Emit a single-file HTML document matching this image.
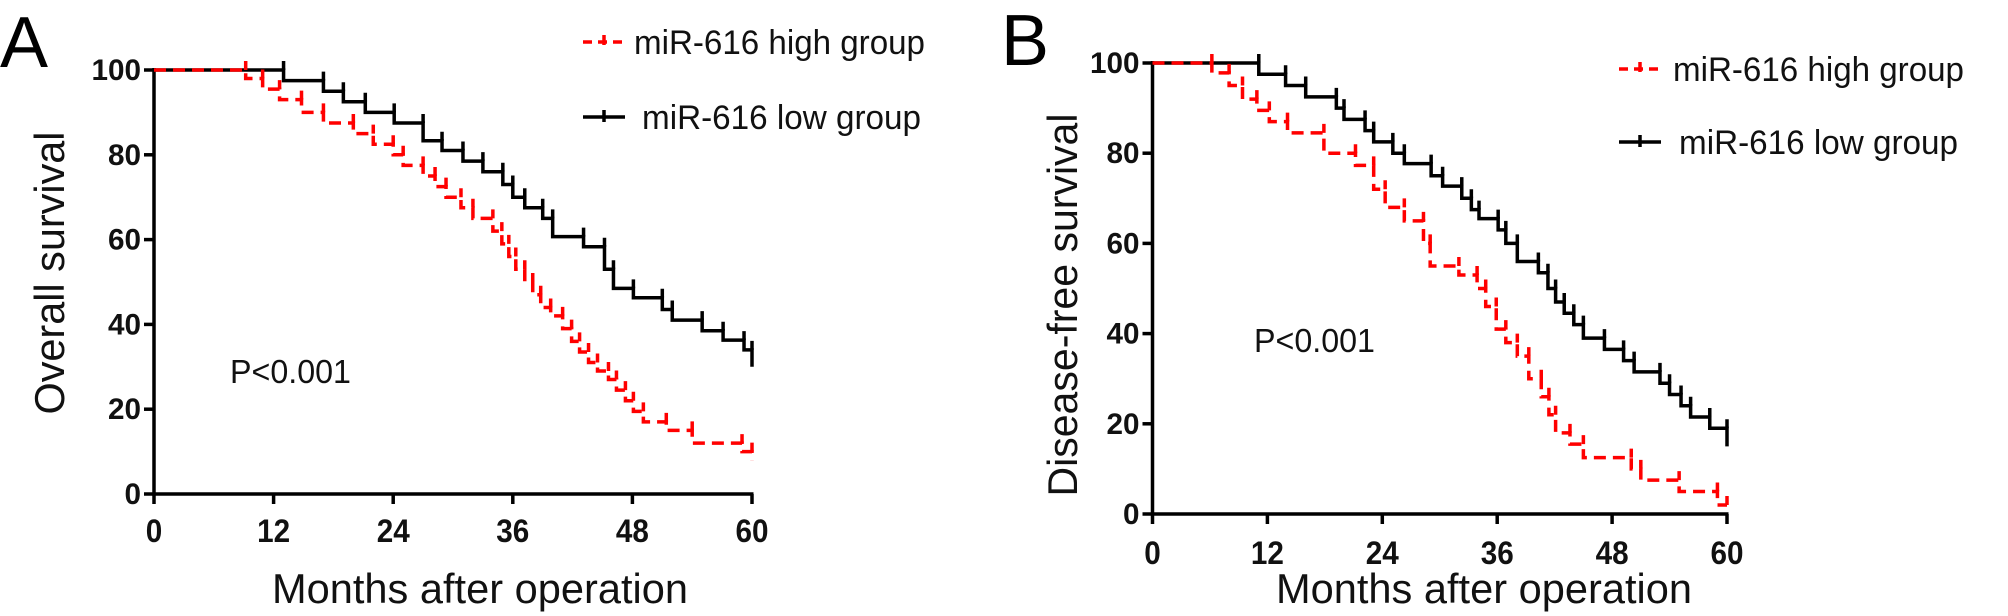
<!DOCTYPE html>
<html><head><meta charset="utf-8"><style>
html,body{margin:0;padding:0;background:#fff;}
svg{display:block;font-family:"Liberation Sans",Arial,sans-serif;}
</style></head><body>
<svg id="fig" width="2008" height="616" viewBox="0 0 2008 616" xmlns="http://www.w3.org/2000/svg"></svg>
<script>
const xTicks = [0, 12, 24, 36, 48, 60];
const yTicks = [0, 20, 40, 60, 80, 100];
// Panel A (overall survival)
const aHighTimes = [0, 9.2, 10.9, 12.6, 14.8, 17, 20, 22, 24, 25, 27, 28.2, 29.3, 30.8, 32, 34, 34.9, 35.6, 36.3, 37.2, 38, 38.8, 39.8, 41, 41.9, 42.7, 43.6, 44.5, 45.6, 46.4, 47.3, 48.1, 49.1, 51.4, 54, 59, 60];
const aHighSurv  = [100, 98, 95.5, 93, 90, 87.5, 85, 82.5, 80, 77.5, 75, 72.5, 70, 67.5, 65, 62, 59, 56, 53, 50, 47, 44, 42, 39, 36, 33.5, 31, 29, 27, 24.5, 22, 19.5, 17, 15, 12, 10, 8];
const aLowTimes  = [0, 13, 17, 19, 21.2, 24.1, 27, 28.9, 31, 33, 35, 36, 37.2, 39, 40, 43.1, 45.2, 46.1, 48.1, 51, 52, 55, 57.1, 59.2, 60];
const aLowSurv   = [100, 97.5, 95, 92.5, 90, 87.5, 83.3, 81, 78.5, 76, 73, 70, 67.5, 65, 60.7, 58.3, 53, 48.5, 46.3, 43.5, 41, 38.5, 36.3, 34, 30];
// Panel B (disease-free survival)
const bHighTimes = [0, 6.2, 8, 9.4, 10.9, 12.2, 14.1, 17.9, 21.2, 23.1, 24.3, 26.3, 28.3, 29, 32, 33.9, 34.8, 35.9, 36.9, 38.1, 39.3, 40.6, 41.4, 42.1, 43.6, 45, 50, 51, 55, 59, 60];
const bHighSurv  = [100, 97.8, 95, 92, 89.5, 87, 84.5, 80, 77.3, 72, 68, 65, 60, 55, 53, 50, 46, 41, 38, 35, 30, 26, 22, 18, 15.5, 12.5, 10, 7.5, 5, 2, 2];
const bLowTimes  = [0, 11.1, 13.9, 16, 19.2, 20, 22.2, 23.1, 25.1, 26.3, 29.1, 30.3, 32.3, 33.3, 34.1, 36.1, 36.9, 38.1, 40.3, 41.3, 42.1, 43, 44, 45, 47.2, 49.2, 50.3, 53, 54, 55.2, 56.2, 58.2, 60];
const bLowSurv   = [100, 97.5, 95, 92.5, 90, 87.5, 85, 82.5, 80, 77.7, 75, 72.7, 70, 67.5, 65.5, 63, 60, 56, 53.5, 50, 47, 44.5, 42, 39, 36.5, 34, 31.5, 29, 26.5, 24, 21.5, 19, 15];

const NS = "http://www.w3.org/2000/svg";
const svg = document.getElementById('fig');
function mk(tag, attrs, parent) {
  const e = document.createElementNS(NS, tag);
  for (const k in attrs) e.setAttribute(k, attrs[k]);
  (parent || svg).appendChild(e);
  return e;
}
function panel(p) {
  const g = mk('g', {});
  
  
  const sx = v => p.x0 + (p.x1 - p.x0) * v / 60;
  const sy = v => p.y0 + (p.y1 - p.y0) * v / 100;
  const L = mk('text', {x: p.letterX, y: p.letterY, 'font-size': 72, fill: '#000'}, g);
  L.textContent = p.letter;
  
  
  const ax = mk('path', {d: `M${sx(0)},${sy(100)-2}V${sy(0)}H${sx(60)+1.5}`, stroke: '#000', 'stroke-width': 3.5, fill: 'none'}, g);
  
  
  yTicks.forEach(t => {
    mk('line', {x1: sx(0) - 10, x2: sx(0), y1: sy(t), y2: sy(t), stroke: '#000', 'stroke-width': 3.5}, g);
    const s = String(t);
    const tx = mk('text', {x: sx(0) - 13, y: sy(t) + 10, 'font-size': 30, 'font-weight': 'bold', 'text-anchor': 'end', fill: '#111', textLength: s.length * 16.5, lengthAdjust: 'spacingAndGlyphs'}, g);
    tx.textContent = s;
    
    
  });
  xTicks.forEach(t => {
    mk('line', {x1: sx(t), x2: sx(t), y1: sy(0), y2: sy(0) + 10, stroke: '#000', 'stroke-width': 3.5}, g);
    const s = String(t);
    const tx = mk('text', {x: sx(t), y: p.xTickY + 2, 'font-size': 32, 'font-weight': 'bold', 'text-anchor': 'middle', fill: '#111', textLength: s.length * 16.5, lengthAdjust: 'spacingAndGlyphs'}, g);
    tx.textContent = s;
    
    
  });
  const xt = mk('text', {x: p.xTitleX, y: 603, 'font-size': 42, 'text-anchor': 'middle', fill: '#111', textLength: 416, lengthAdjust: 'spacingAndGlyphs'}, g);
  xt.textContent = 'Months after operation';
  
  
  const yt = mk('text', {x: 0, y: 0, 'font-size': 42, 'text-anchor': 'middle', fill: '#111', textLength: p.yTitleLen, lengthAdjust: 'spacingAndGlyphs', transform: `translate(${p.yTitleX + 2},${p.yTitleY}) rotate(-90)`}, g);
  yt.textContent = p.yTitle;
  
  
  const pv = mk('text', {x: p.pX, y: p.pY + 2, 'font-size': 33, fill: '#111', textLength: 121, lengthAdjust: 'spacingAndGlyphs'}, g);
  pv.textContent = 'P<0.001';
  
  
  function curve(times, surv, color, dash, name) {
    let d = `M${sx(times[0])},${sy(surv[0])}`;
    let ticks = '';
    for (let i = 1; i < times.length; i++) {
      d += `H${sx(times[i])}V${sy(surv[i])}`;
      ticks += `M${sx(times[i])},${sy(surv[i-1]) - 9}V${sy(surv[i-1])}`;
    }
    const c = mk('path', {d: d, stroke: color, 'stroke-width': 3.5, fill: 'none', 'stroke-dasharray': dash}, g);
    
    
    const tk = mk('path', {d: ticks, stroke: color, 'stroke-width': 3.5, fill: 'none'}, g);
    
    
  }
  curve(p.lowT, p.lowS, '#000', 'none', 'low-group-curve');
  curve(p.highT, p.highS, '#f00', '12 7', 'high-group-curve');
  const lg = mk('g', {}, g);
  
  
  mk('line', {x1: p.legX, x2: p.legX + 42, y1: p.legY1, y2: p.legY1, stroke: '#f00', 'stroke-width': 3.5, 'stroke-dasharray': '9 6'}, lg);
  mk('line', {x1: p.legX + 21, x2: p.legX + 21, y1: p.legY1 - 7, y2: p.legY1 + 3, stroke: '#f00', 'stroke-width': 3.5}, lg);
  const t1 = mk('text', {x: p.legT1X, y: p.legY1 + 12, 'font-size': 34, fill: '#111', textLength: 291, lengthAdjust: 'spacingAndGlyphs'}, lg);
  t1.textContent = 'miR-616 high group';
  
  
  mk('line', {x1: p.legX, x2: p.legX + 42, y1: p.legY2, y2: p.legY2, stroke: '#000', 'stroke-width': 3.5}, lg);
  mk('line', {x1: p.legX + 21, x2: p.legX + 21, y1: p.legY2 - 7, y2: p.legY2 + 5, stroke: '#000', 'stroke-width': 3.5}, lg);
  const t2 = mk('text', {x: p.legT2X, y: p.legY2 + 12, 'font-size': 34, fill: '#111', textLength: 279, lengthAdjust: 'spacingAndGlyphs'}, lg);
  t2.textContent = 'miR-616 low group';
  
  
}
panel({name: 'panel-a-overall-survival', letter: 'A', letterX: 0, letterY: 67,
  x0: 154, x1: 752, y0: 494, y1: 70, xTickY: 540, xTitleX: 480,
  yTitle: 'Overall survival', yTitleX: 62, yTitleY: 273, yTitleLen: 283,
  pX: 230, pY: 381, highT: aHighTimes, highS: aHighSurv, lowT: aLowTimes, lowS: aLowSurv,
  legX: 583, legY1: 42, legY2: 117, legT1X: 634, legT2X: 642});
panel({name: 'panel-b-disease-free-survival', letter: 'B', letterX: 1001, letterY: 65,
  x0: 1152.5, x1: 1727, y0: 514, y1: 63, xTickY: 562, xTitleX: 1484,
  yTitle: 'Disease-free survival', yTitleX: 1075, yTitleY: 305, yTitleLen: 383,
  pX: 1254, pY: 350, highT: bHighTimes, highS: bHighSurv, lowT: bLowTimes, lowS: bLowSurv,
  legX: 1619, legY1: 69, legY2: 142, legT1X: 1673, legT2X: 1679});
</script>
</body></html>
